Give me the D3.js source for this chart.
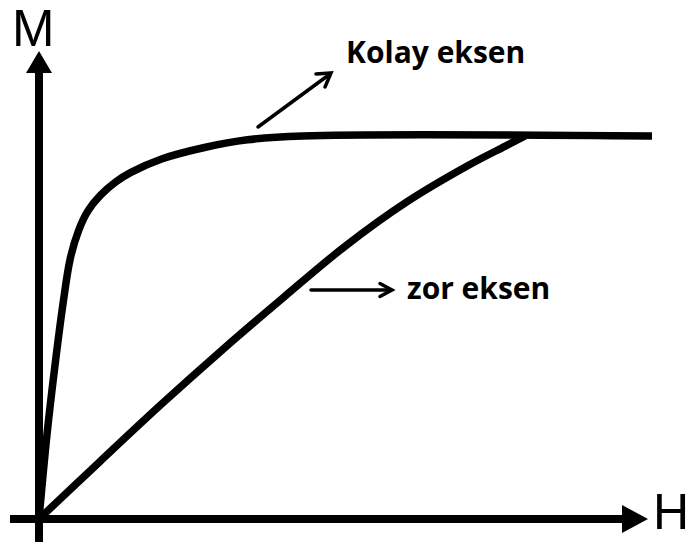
<!DOCTYPE html>
<html>
<head>
<meta charset="utf-8">
<script src="https://cdn.jsdelivr.net/npm/d3@7"></script>
<style>
    body { margin: 0; background: #fff; }
    #chart { width: 689px; height: 548px; }
    .label { font-family: "Liberation Sans", Arial, sans-serif; fill: #000; }
    .note { font-family: "Open Sans", sans-serif; font-weight: bold; fill: #000; }
</style>
</head>
<body>
<div id="chart"></div>
<script>

// easy axis (kolay eksen) - H vs M
let easyH = [0, 1.3, 2.6, 3.9, 5.1, 6.5, 8.0, 10, 12.5, 15, 20, 27, 34, 43, 100];
let easyM = [0, 22, 40, 56, 68, 75.5, 80.5, 84.5, 88, 90.5, 94, 97, 99, 100, 100];

// hard axis (zor eksen)
let hardH = [0, 10, 20, 30, 40, 50, 60, 70, 76, 79.3];
let hardM = [0, 15.1, 30, 44.3, 58, 71.3, 82.8, 92.3, 97.3, 100];

let axisLabels = ['H', 'M'];
let curveLabels = ['Kolay eksen', 'zor eksen'];

class MagnetVis {

    constructor(parentElement) {
        this.parentElement = parentElement;
        this.initVis();
    }

    initVis() {
        let vis = this;

        vis.width = 689;
        vis.height = 548;

        vis.svg = d3.select('#' + vis.parentElement).append('svg')
            .attr('width', vis.width)
            .attr('height', vis.height);

        // H 0..100 , M 0..100 (saturation)
        vis.x = d3.scaleLinear().domain([0, 100]).range([39, 652]);
        vis.y = d3.scaleLinear().domain([0, 100]).range([519, 136]);

        vis.line = d3.line()
            .x(d => vis.x(d[0]))
            .y(d => vis.y(d[1]))
            .curve(d3.curveCatmullRom.alpha(0.5));

        vis.wrangleData();
    }

    wrangleData() {
        let vis = this;
        vis.easy = easyH.map((h, i) => [h, easyM[i]]);
        vis.hard = hardH.map((h, i) => [h, hardM[i]]);
        vis.updateVis();
    }

    updateVis() {
        let vis = this;
        let x0 = vis.x(0), y0 = vis.y(0);

        // axes
        let axes = vis.svg.append('g').attr('class', 'axes');
        axes.append('line')
            .attr('x1', x0).attr('x2', x0)
            .attr('y1', y0 + 23).attr('y2', 72)
            .attr('stroke', '#000').attr('stroke-width', 8);
        axes.append('path')
            .attr('d', `M${x0 - 13},73 L${x0},51 L${x0 + 13},73 Z`)
            .attr('fill', '#000');

        axes.append('line')
            .attr('x1', 10).attr('x2', 623)
            .attr('y1', y0).attr('y2', y0)
            .attr('stroke', '#000').attr('stroke-width', 8);
        axes.append('path')
            .attr('d', `M622,${y0 - 14} L648,${y0} L622,${y0 + 14} Z`)
            .attr('fill', '#000');

        // curves
        vis.svg.selectAll('.curve')
            .data([vis.easy, vis.hard])
            .enter()
            .append('path')
            .attr('class', 'curve')
            .attr('d', d => vis.line(d))
            .attr('fill', 'none')
            .attr('stroke', '#000')
            .attr('stroke-width', 7.5)
            .attr('stroke-linejoin', 'round');

        // axis letters
        vis.svg.append('text')
            .attr('class', 'label')
            .attr('x', 12).attr('y', 46)
            .attr('font-size', 51)
            .text(axisLabels[1]);
        vis.svg.append('text')
            .attr('class', 'label')
            .attr('x', 653).attr('y', 529)
            .attr('font-size', 50)
            .text(axisLabels[0]);

        // annotation arrows
        let notes = vis.svg.append('g')
            .attr('stroke', '#000')
            .attr('stroke-width', 3.5)
            .attr('fill', 'none')
            .attr('stroke-linecap', 'round');
        notes.append('line').attr('x1', 258).attr('y1', 127).attr('x2', 330).attr('y2', 74);
        notes.append('path').attr('d', 'M316,74 L331,73 L325,87');
        notes.append('line').attr('x1', 311).attr('y1', 290).attr('x2', 391).attr('y2', 290);
        notes.append('path').attr('d', 'M380,283.5 L392,290 L380,296.5');

        vis.svg.append('text')
            .attr('class', 'note')
            .attr('x', 346).attr('y', 63)
            .attr('font-size', 30)
            .text(curveLabels[0]);
        vis.svg.append('text')
            .attr('class', 'note')
            .attr('x', 407).attr('y', 299)
            .attr('font-size', 30)
            .text(curveLabels[1]);
    }
}

let magnetVis = new MagnetVis('chart');
</script>
</body>
</html>
